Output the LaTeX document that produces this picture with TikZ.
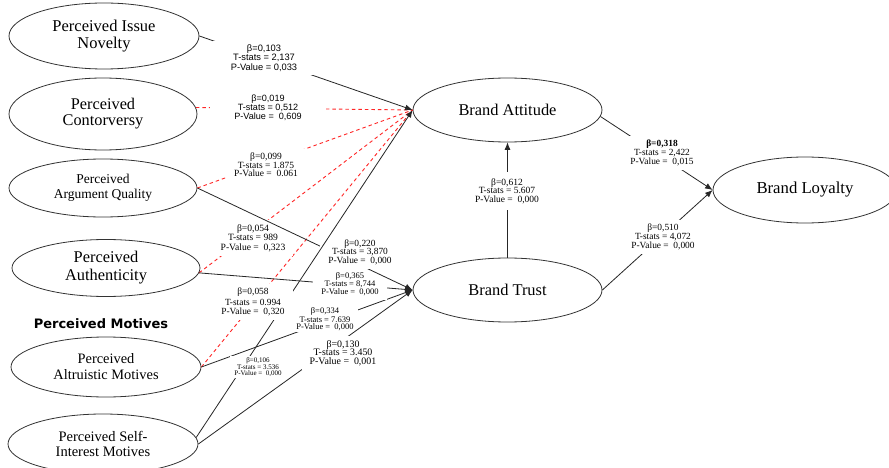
\documentclass[tikz,border=0pt]{standalone}
\usepackage{fontspec}
\setmainfont{Liberation Serif}
\newfontfamily\arialf{Liberation Sans}
\newfontfamily\dejaf{DejaVu Sans}
\usetikzlibrary{shapes.geometric,arrows.meta}
\newcommand\myfs[2]{\fontsize{#1}{#2}\selectfont}
\begin{document}
\begin{tikzpicture}[x=1pt,y=-1pt,
  ell/.style={ellipse,draw=black!80,line width=0.8pt,inner sep=0pt,align=center},
  lab/.style={fill=white,align=center,inner xsep=8pt,inner ysep=4pt},
  conn/.style={draw=black!85,line width=0.8pt},
  ns/.style={draw=red!85!white,line width=0.9pt,dash pattern=on 3.5pt off 3pt},
  arr/.style={-{Latex[length=7.5pt,width=6pt]}}
]
\fill[white] (0,0) rectangle (889,468);
\useasboundingbox (0,0) rectangle (889,468);

% constructs
\node[ell,minimum width=190pt,minimum height=66pt,font=\myfs{16.5}{17}] (nov) at (104,36) {Perceived Issue\\Novelty};
\node[ell,minimum width=188pt,minimum height=72pt,font=\myfs{16.3}{16}] (con) at (103,114) {Perceived\\Contorversy};
\node[ell,minimum width=188pt,minimum height=58pt,font=\myfs{13.5}{15}] (arg) at (103,188) {Perceived\\Argument Quality};
\node[ell,minimum width=188pt,minimum height=57pt,font=\myfs{16.4}{18}] (aut) at (106,268) {Perceived\\Authenticity};
\node[ell,minimum width=190pt,minimum height=60pt,font=\myfs{14.4}{16}] (alt) at (106,367) {Perceived\\Altruistic Motives};
\node[ell,minimum width=190pt,minimum height=60pt,font=\myfs{14.5}{15}] (sim) at (103,444) {Perceived Self-\\Interest Motives};
\node[ell,minimum width=189pt,minimum height=64pt,font=\myfs{16.4}{17}] (ba) at (507.5,110) {Brand Attitude};
\node[ell,minimum width=189pt,minimum height=64pt,font=\myfs{16.4}{17}] (bt) at (507.5,290) {Brand Trust};
\node[ell,minimum width=184pt,minimum height=66pt,font=\myfs{16.7}{17}] (bl) at (805,190) {Brand Loyalty};
\node[font=\dejaf\bfseries\myfs{13}{14}] (mot) at (101,324) {Perceived Motives};

% connectors drawn first
\draw[ns] (con.4) -- (ba.west);
\draw[ns] (arg.east) -- (ba.west);
\draw[ns] (aut.-3) -- (ba.west);
\draw[ns] (alt.east) -- (ba.west);
\draw[conn,arr] (nov.east) -- (ba.west);
\draw[conn,arr] (aut.-3) -- (bt.west);
\draw[conn,arr] (alt.east) -- (bt.west);
\draw[conn,arr] (bt.north) -- (ba.south);
\draw[conn,arr] (ba.-4) -- (bl.west);
\draw[conn,arr] (bt.east) -- (bl.west);

% labels
\node[lab,inner xsep=18pt,font=\arialf\myfs{9.3}{9.5}] (l1) at (264,58) {β=0,103\\T-stats = 2,137\\P-Value = 0,033};
\node[lab,inner xsep=24pt,font=\arialf\myfs{9.1}{9}] (l2) at (268,108) {β=0,019\\T-stats = 0,512\\P-Value = ~0,609};
\node[lab,font=\myfs{9.5}{8.4}] (l3) at (266,165) {β=0,099\\T-stats = 1.875\\P-Value = ~0.061};
\node[lab,font=\myfs{9.6}{9.5}] (l4) at (253,238) {β=0,054\\T-stats = 989\\P-Value = ~0,323};
\node[lab,font=\myfs{8.5}{8}] (l6) at (350,284) {β=0,365\\T-stats = 8,744\\P-Value = ~0,000};
\node[lab,inner xsep=4pt,inner ysep=2pt,font=\myfs{8.5}{7}] (l8) at (325,319) {β=0,334\\T-stats = 7.639\\P-Value = ~0,000};
\node[lab,font=\myfs{9.4}{9.3}] (l11) at (662,153) {\textbf{β=0,318}\\T-stats = 2,422\\P-Value = ~0,015};
\node[lab,font=\myfs{9.4}{9}] (l12) at (663,237) {β=0,510\\T-stats = 4,072\\P-Value = ~0,000};
\node[lab,inner ysep=6pt,font=\myfs{9.5}{8.5}] (l13) at (507,191) {β=0,612\\T-stats = 5.607\\P-Value = ~0,000};

\draw[conn,arr] (sim.east) -- (bt.west);
\node[lab,font=\myfs{9.9}{8.7}] (l9) at (343,353) {β=0,130\\T-stats = 3.450\\P-Value = ~0,001};

\draw[conn,arr] (arg.east) -- (bt.west);
\node[lab,font=\myfs{9.4}{8.5}] (l5) at (360,252) {β=0,220\\T-stats = 3,870\\P-Value = ~0,000};

\draw[conn,arr] (sim.4) -- (ba.west);
\node[lab,font=\myfs{9.4}{9.5}] (l7) at (253,302) {β=0,058\\[1.5pt]T-stats = 0.994\\P-Value = ~0,320};
\node[lab,inner xsep=4pt,inner ysep=2pt,font=\myfs{7}{5.8}] (l10) at (258,367) {β=0,106\\T-stats = 3.536\\P-Value = ~0,000};
\end{tikzpicture}
\end{document}
